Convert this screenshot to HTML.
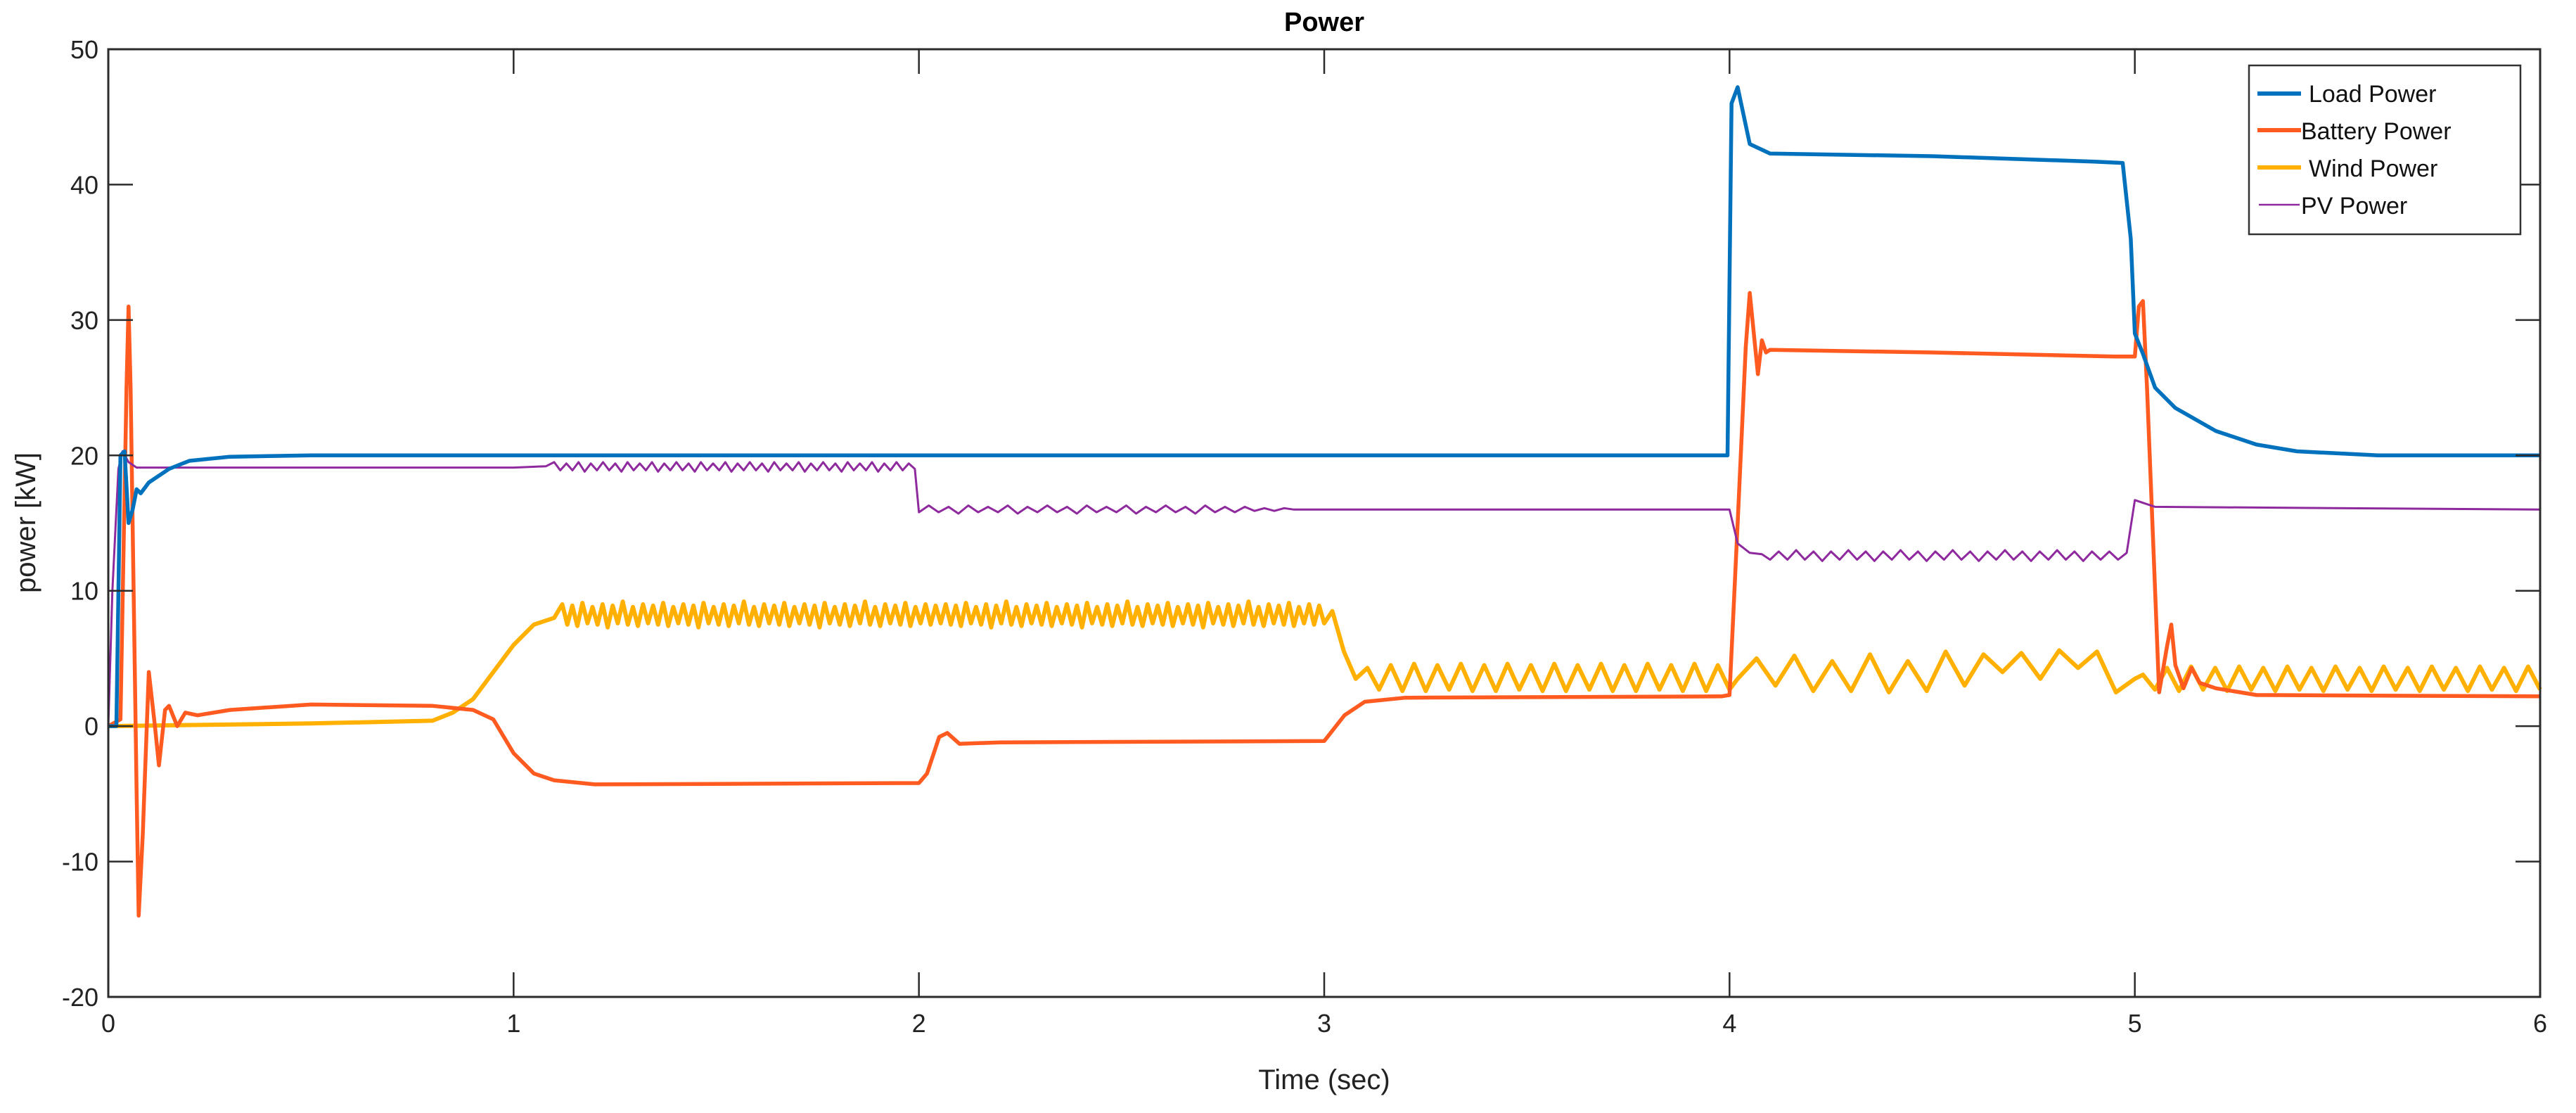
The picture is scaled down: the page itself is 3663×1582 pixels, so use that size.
<!DOCTYPE html>
<html><head><meta charset="utf-8"><style>
html,body{margin:0;padding:0;background:#fff;}
svg{display:block;font-family:"Liberation Sans",sans-serif;}
</style></head><body>
<svg id="chart" width="3663" height="1582" viewBox="0 0 3663 1582">
<rect x="0" y="0" width="3663" height="1582" fill="#fff"/>
<g id="series"></g>
<g id="axes"></g>
<text x="1883" y="44" font-size="38" font-weight="bold" text-anchor="middle" fill="#000">Power</text>
<text x="1883" y="1548" font-size="40" text-anchor="middle" fill="#222">Time (sec)</text>
<text x="0" y="0" font-size="40" text-anchor="middle" fill="#222" transform="translate(50,743) rotate(-90)">power [kW]</text>
<g>
<rect x="3198" y="93" width="386" height="240" fill="#fff" stroke="#333" stroke-width="2.5"/>
<g><line x1="3210" y1="133" x2="3272" y2="133" stroke="#0072BD" stroke-width="6"/><text x="3283" y="145" font-size="34" fill="#111">Load Power</text></g>
<g><line x1="3210" y1="185" x2="3272" y2="185" stroke="#FF5A1F" stroke-width="6"/><text x="3272" y="198" font-size="34" fill="#111">Battery Power</text></g>
<g><line x1="3210" y1="238" x2="3272" y2="238" stroke="#FFB000" stroke-width="6"/><text x="3283" y="251" font-size="34" fill="#111">Wind Power</text></g>
<g><line x1="3212" y1="291" x2="3270" y2="291" stroke="#8E2A9E" stroke-width="2.5"/><text x="3272" y="304" font-size="34" fill="#111">PV Power</text></g>
</g>
</svg>
<script>
const xTicks=[0,1,2,3,4,5,6];
const yTicks=[-20,-10,0,10,20,30,40,50];
const loadT=[0,0.02,0.03,0.04,0.05,0.06,0.07,0.08,0.1,0.15,0.2,0.3,0.5,1,2,3,3.995,4.005,4.02,4.05,4.1,4.5,4.9,4.97,4.99,5.0,5.02,5.05,5.1,5.2,5.3,5.4,5.6,6];
const loadV=[0,0,20,20.3,15,16,17.5,17.2,18,19,19.6,19.9,20,20,20,20,20,46,47.2,43,42.3,42.1,41.7,41.6,36,29,27.5,25,23.5,21.8,20.8,20.3,20,20];
const battT=[0,0.03,0.045,0.05,0.055,0.07,0.075,0.085,0.1,0.115,0.125,0.14,0.15,0.17,0.19,0.22,0.3,0.5,0.8,0.9,0.95,1.0,1.05,1.1,1.2,2.0,2.02,2.05,2.07,2.1,2.2,3.0,3.05,3.1,3.2,3.98,4.0,4.02,4.04,4.05,4.06,4.07,4.08,4.09,4.1,4.5,4.95,5.0,5.01,5.02,5.03,5.05,5.06,5.08,5.09,5.1,5.12,5.14,5.16,5.2,5.3,6];
const battV=[0,0.5,25,31,25,-5,-14,-8,4,0,-2.9,1.2,1.5,0,1,0.8,1.2,1.6,1.5,1.2,0.5,-2,-3.5,-4,-4.3,-4.2,-3.5,-0.8,-0.5,-1.3,-1.2,-1.1,0.8,1.8,2.1,2.2,2.3,15,28,32,29,26,28.5,27.6,27.8,27.6,27.3,27.3,31,31.4,25,10,2.5,6,7.5,4.5,2.8,4.3,3.2,2.8,2.3,2.2];
const pvT=[0,0.01,0.025,0.035,0.05,0.07,1.0,1.08];
const pvV=[0,10,19,20.3,19.5,19.1,19.1,19.2];
const pvRipple1=[19.5,18.9,19.4,18.9,19.5,18.8,19.4,18.9,19.5,18.9,19.4,18.8,19.5,18.9,19.4,18.9,19.5,18.8,19.4,18.9,19.5,18.9,19.4,18.8,19.5,18.9,19.4,18.9,19.5,18.8,19.4,18.9,19.5,18.9,19.4,18.8,19.5,18.9,19.4,18.9,19.5,18.8,19.4,18.9,19.5,18.9,19.4,18.8,19.5,18.9,19.4,18.9,19.5,18.8,19.4,18.9,19.5,18.9,19.4,19.0];
const pvRipple2=[15.8,16.3,15.8,16.2,15.7,16.3,15.8,16.2,15.8,16.3,15.7,16.2,15.8,16.3,15.8,16.2,15.7,16.3,15.8,16.2,15.8,16.3,15.7,16.2,15.8,16.3,15.8,16.2,15.7,16.3,15.8,16.2,15.8,16.2,15.9,16.1,15.9,16.1,16.0,16.0];
const pvTail=[[3.0,16],[4.0,16],[4.02,13.5],[4.05,12.8],[4.08,12.7]];
const pvRipple3=[12.3,12.9,12.3,13.0,12.3,12.9,12.2,12.9,12.3,13.0,12.3,12.9,12.2,12.9,12.3,13.0,12.3,12.9,12.2,12.9,12.3,13.0,12.3,12.9,12.2,12.9,12.3,13.0,12.3,12.9,12.2,12.9,12.3,13.0,12.3,12.9,12.2,12.9,12.3,12.9,12.3,12.8];
const pvEnd=[[5.0,16.7],[5.05,16.2],[6,16]];
const windT=[0,0.5,0.8,0.85,0.9,0.95,1.0,1.05,1.1];
const windV=[0,0.2,0.4,1,2,4,6,7.5,8];
const windRipple1=[9.0,7.5,8.9,7.4,9.1,7.6,8.8,7.5,9.0,7.3,8.9,7.6,9.2,7.5,8.8,7.4,9.0,7.6,8.9,7.5,9.1,7.4,8.8,7.6,9.0,7.5,8.9,7.3,9.1,7.6,8.8,7.5,9.0,7.4,8.9,7.6,9.2,7.5,8.8,7.4,9.0,7.6,8.9,7.5,9.1,7.4,8.8,7.6,9.0,7.5,8.9,7.3,9.1,7.6,8.8,7.5,9.0,7.4,8.9,7.6,9.2,7.5,8.8,7.4,9.0,7.6,8.9,7.5,9.1,7.4,8.8,7.6,9.0,7.5,8.9,7.6,
9.0,7.5,8.9,7.4,9.1,7.6,8.8,7.5,9.0,7.3,8.9,7.6,9.2,7.5,8.8,7.4,9.0,7.6,8.9,7.5,9.1,7.4,8.8,7.6,9.0,7.5,8.9,7.3,9.1,7.6,8.8,7.5,9.0,7.4,8.9,7.6,9.2,7.5,8.8,7.4,9.0,7.6,8.9,7.5,9.1,7.4,8.8,7.6,9.0,7.5,8.9,7.3,9.1,7.6,8.8,7.5,9.0,7.4,8.9,7.6,9.2,7.5,8.8,7.4,9.0,7.6,8.9,7.5,9.1,7.4,8.8,7.6,9.0,7.5,8.9,7.6];
const windRipple2=[8.5,5.5,3.5,4.3,2.7,4.5,2.6,4.6,2.6,4.5,2.7,4.6,2.6,4.5,2.6,4.6,2.7,4.5,2.6,4.6,2.6,4.5,2.7,4.6,2.6,4.5,2.6,4.6,2.7,4.5,2.6,4.6,2.6,4.5,2.7];
const windRipple3=[3.5,5.0,3.0,5.2,2.6,4.8,2.6,5.3,2.5,4.8,2.6,5.5,3.0,5.3,4.0,5.4,3.5,5.6,4.3,5.5,2.5,3.5];
const windRipple4=[3.8,2.7,4.3,2.6,4.4,2.7,4.3,2.6,4.4,2.7,4.3,2.6,4.4,2.7,4.3,2.6,4.4,2.7,4.3,2.6,4.4,2.7,4.3,2.6,4.4,2.7,4.3,2.6,4.4,2.7,4.3,2.6,4.4,2.7];

const X0=154,X1=3612,Y0=1417,Y1=70;
function xs(t){return X0+(t-0)/(6-0)*(X1-X0);}
function ys(v){return Y0-(v+20)/(50+20)*(Y0-Y1);}
const NS='http://www.w3.org/2000/svg';
const axes=document.getElementById('axes');
const series=document.getElementById('series');

function mk(tag,attrs,parent){const e=document.createElementNS(NS,tag);for(const k in attrs)e.setAttribute(k,attrs[k]);parent.appendChild(e);return e;}

const frame=mk('rect',{x:X0,y:Y1,width:X1-X0,height:Y0-Y1,fill:'none',stroke:'#2b2b2b','stroke-width':3},axes);



xTicks.forEach(t=>{
  const l=mk('line',{x1:xs(t),y1:Y0,x2:xs(t),y2:Y0-35,stroke:'#2b2b2b','stroke-width':2.5},axes);
  
  
  const l2=mk('line',{x1:xs(t),y1:Y1,x2:xs(t),y2:Y1+35,stroke:'#2b2b2b','stroke-width':2.5},axes);
  
  
  const tx=mk('text',{x:xs(t),y:Y0+50,'font-size':36,'text-anchor':'middle',fill:'#222'},axes);
  tx.textContent=t;
  
  
});
yTicks.forEach(v=>{
  const l=mk('line',{x1:X0,y1:ys(v),x2:X0+35,y2:ys(v),stroke:'#2b2b2b','stroke-width':2.5},axes);
  
  
  const l2=mk('line',{x1:X1,y1:ys(v),x2:X1-35,y2:ys(v),stroke:'#2b2b2b','stroke-width':2.5},axes);
  
  
  const tx=mk('text',{x:X0-14,y:ys(v)+13,'font-size':36,'text-anchor':'end',fill:'#222'},axes);
  tx.textContent=v;
  
  
});

function pathFrom(T,V){return T.map((t,i)=>(i?'L':'M')+xs(t).toFixed(1)+','+ys(V[i]).toFixed(1)).join(' ');}
function appendRipple(T,V,arr,t0,t1){const n=arr.length;for(let i=0;i<n;i++){T.push(t0+(t1-t0)*i/(n-1));V.push(arr[i]);}}
function appendPairs(T,V,pairs){pairs.forEach(p=>{T.push(p[0]);V.push(p[1]);});}

const wT=windT.slice(),wV=windV.slice();
appendRipple(wT,wV,windRipple1,1.12,3.0);
appendRipple(wT,wV,windRipple2,3.02,4.0);
appendRipple(wT,wV,windRipple3,4.02,5.0);
appendRipple(wT,wV,windRipple4,5.02,6.0);

const pT=pvT.slice(),pV=pvV.slice();
appendRipple(pT,pV,pvRipple1,1.1,1.99);
appendRipple(pT,pV,pvRipple2,2.0,2.95);
appendPairs(pT,pV,pvTail);
appendRipple(pT,pV,pvRipple3,4.1,4.98);
appendPairs(pT,pV,pvEnd);

const pW=mk('path',{d:pathFrom(wT,wV),fill:'none',stroke:'#FFB000','stroke-width':6,'stroke-linejoin':'round'},series);


const pB=mk('path',{d:pathFrom(battT,battV),fill:'none',stroke:'#FF5A1F','stroke-width':5.5,'stroke-linejoin':'round'},series);


const pP=mk('path',{d:pathFrom(pT,pV),fill:'none',stroke:'#8E2A9E','stroke-width':3,'stroke-linejoin':'round'},series);


const pL=mk('path',{d:pathFrom(loadT,loadV),fill:'none',stroke:'#0072BD','stroke-width':5.5,'stroke-linejoin':'round'},series);


</script>
</body></html>
